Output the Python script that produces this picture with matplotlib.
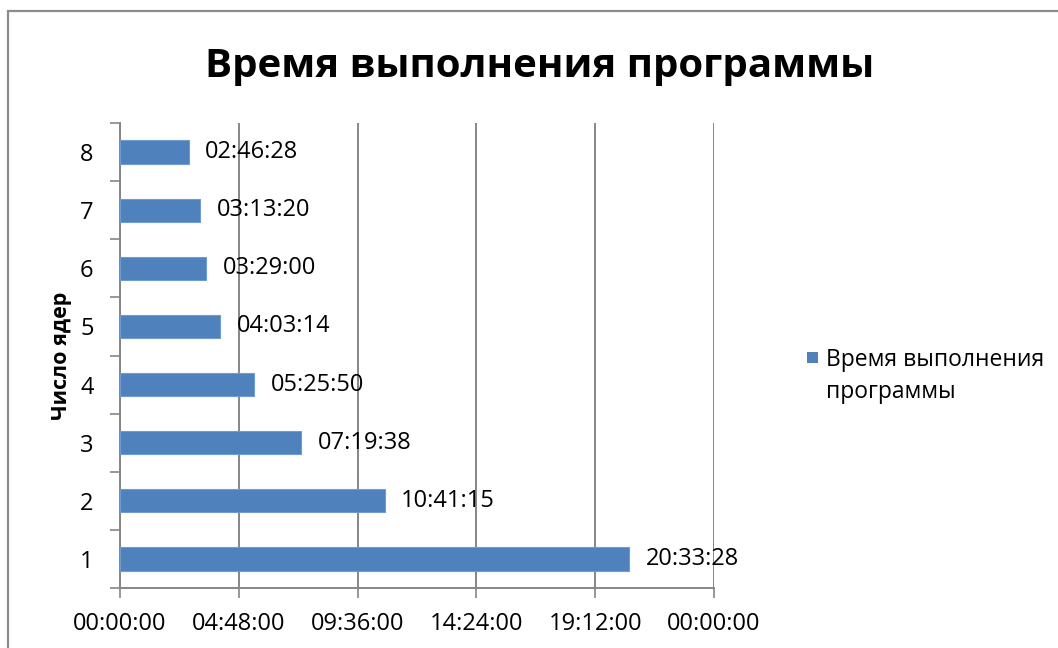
import matplotlib.pyplot as plt
from matplotlib.patches import Rectangle
from matplotlib.ticker import FuncFormatter, MultipleLocator

plt.rcParams['font.family'] = ['Open Sans', 'DejaVu Sans']

# число ядер и время выполнения (чч:мм:сс)
cores = [1, 2, 3, 4, 5, 6, 7, 8]
times = ['20:33:28', '10:41:15', '07:19:38', '05:25:50',
         '04:03:14', '03:29:00', '03:13:20', '02:46:28']
xticks = [0.0, 0.2, 0.4, 0.6, 0.8, 1.0]  # доли суток

def to_days(s):
    h, m, sec = [int(v) for v in s.split(':')]
    return (h * 3600 + m * 60 + sec) / 86400.0

def fmt_time(x, pos=None):
    total = int(round(x * 86400)) % 86400
    return '%02d:%02d:%02d' % (total // 3600, total % 3600 // 60, total % 60)

days = [to_days(t) for t in times]

fig = plt.figure(figsize=(10.58, 6.48), dpi=100)
ax = fig.add_axes([120 / 1058, 60 / 648, 594 / 1058, 465 / 648])

grey = '#868686'
bars = ax.barh(cores, days, height=0.4, color='#4F81BD', edgecolor='#6F9BD0', linewidth=0.8, zorder=3)
ax.bar_label(bars, labels=times, padding=12, fontsize=17, zorder=4)

ax.set_xlim(0, 1.0)
ax.set_ylim(0.5, 8.5)
ax.set_xticks(xticks)
ax.xaxis.set_major_formatter(FuncFormatter(fmt_time))
ax.set_yticks(cores)
ax.yaxis.set_minor_locator(MultipleLocator(1, offset=0.5))
ax.tick_params(axis='y', which='major', length=0, pad=19, labelsize=17)
ax.tick_params(axis='y', which='minor', length=7, width=1.2, color=grey, direction='out')
ax.tick_params(axis='x', length=7, width=1.2, color=grey, direction='out', pad=10, labelsize=17)

ax.grid(axis='x', color=grey, linewidth=1.4, zorder=1)
for side in ['top', 'right']:
    ax.spines[side].set_visible(False)
for side in ['left', 'bottom']:
    ax.spines[side].set_color(grey)
    ax.spines[side].set_linewidth(1.4)

ax.set_ylabel('Число ядер', fontsize=15.5, fontweight='bold')
ax.yaxis.set_label_coords(-48 / 594, 0.5)
fig.text(540 / 1058, 1 - 66 / 648, 'Время выполнения программы',
         fontsize=29, fontweight='bold', ha='center', va='center')

# легенда справа
fig.patches.append(Rectangle((807 / 1058, 1 - 363 / 648), 11 / 1058, 11 / 648,
                             transform=fig.transFigure, facecolor='#4F81BD', edgecolor='none'))
fig.text(826 / 1058, 1 - 376 / 648, 'Время выполнения\nпрограммы', fontsize=16.5,
         ha='left', va='center', linespacing=1.5, transform=fig.transFigure)

# рамка области диаграммы
fig.patches.append(Rectangle((8 / 1058, -0.1), 1.2, 1.1 - 11 / 648, transform=fig.transFigure,
                             fill=False, edgecolor='#8C8C8C', linewidth=1.6))

fig.savefig('out.png', dpi=100)
